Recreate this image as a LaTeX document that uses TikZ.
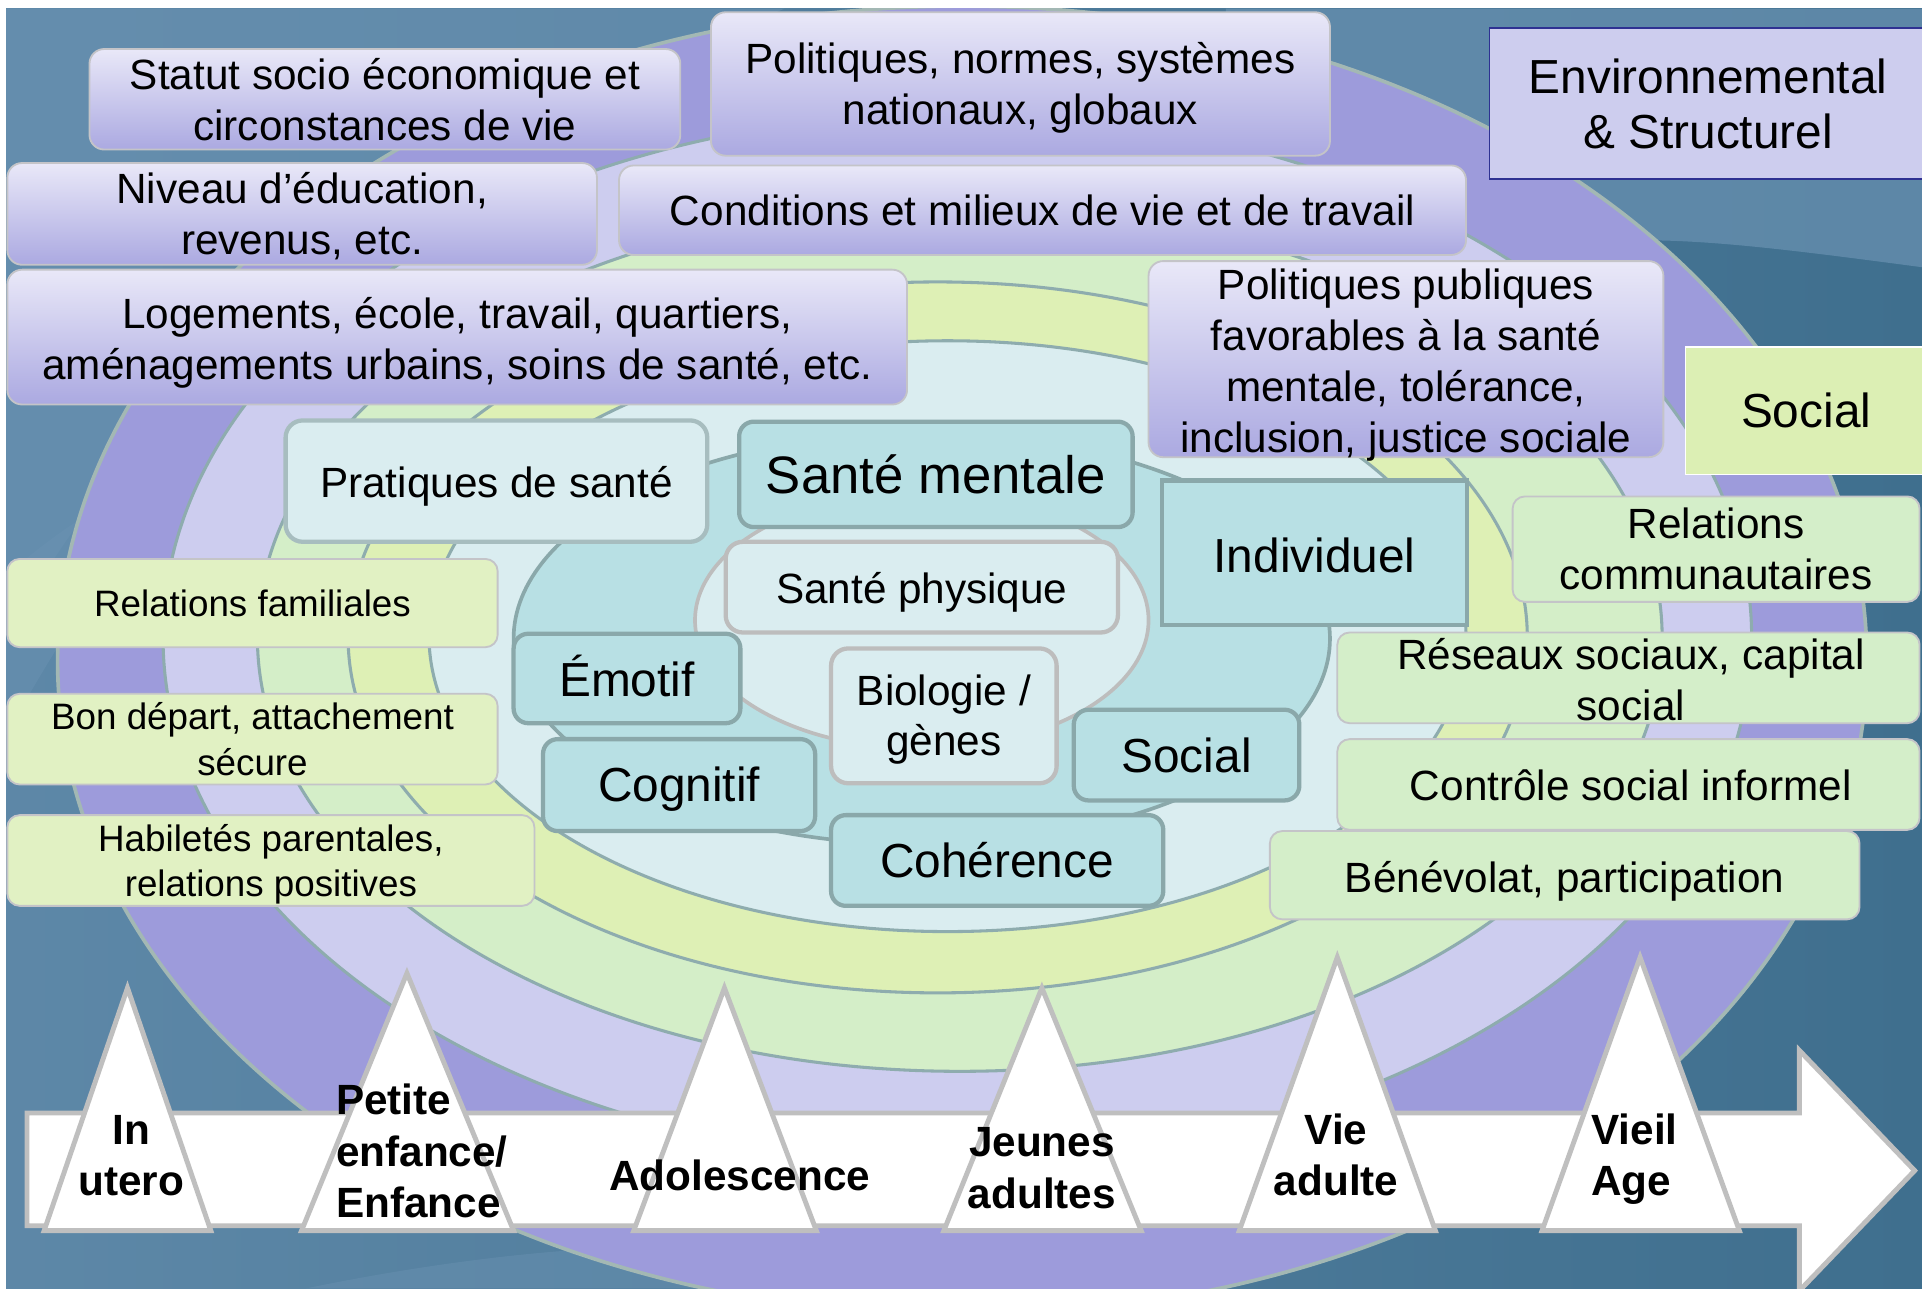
\documentclass[tikz,border=0pt]{standalone}
\usepackage{fontspec}
\setmainfont{Liberation Sans}
\definecolor{bgblue}{HTML}{3F6F8E}
\definecolor{bglight}{HTML}{6A92B2}
\definecolor{ringP}{HTML}{9D9BDB}
\definecolor{ringL}{HTML}{CDCDEF}
\definecolor{ringG}{HTML}{D4EEC8}
\definecolor{ringY}{HTML}{DEF0B5}
\definecolor{ringC}{HTML}{DAEDF0}
\definecolor{tealf}{HTML}{B8E0E4}
\definecolor{tealline}{HTML}{8AA8AA}
\definecolor{ringline}{HTML}{8EACAE}
\definecolor{outline}{HTML}{A3B8B4}
\definecolor{greyline}{HTML}{BDBDBD}
\definecolor{boxline}{HTML}{C4C4C8}
\definecolor{pratline}{HTML}{A7BDBF}
\definecolor{pTop}{HTML}{E9E8F8}
\definecolor{pBot}{HTML}{ABA9E1}
\definecolor{envfill}{HTML}{CDCDEE}
\definecolor{envline}{HTML}{2E3192}
\definecolor{yelbox}{HTML}{E1F1C3}
\definecolor{grnbox}{HTML}{D4EEC9}
\definecolor{socfill}{HTML}{DCEFB4}
\definecolor{arrline}{HTML}{BFBFBF}
\newcommand\fsN{\fontsize{34.5}{41.5}\selectfont}
\newcommand\fsS{\fontsize{30}{37}\selectfont}
\newcommand\fsL{\fontsize{39}{45}\selectfont}
\newcommand\fsX{\fontsize{43}{50}\selectfont}
\newcommand\fsB{\fontsize{34.5}{42}\selectfont\bfseries}
\tikzset{
  pbox/.style={rounded corners=12pt, draw=boxline, line width=1.5pt, top color=pTop, bottom color=pBot, align=center, inner sep=0pt, font=\fsN},
  ybox/.style={rounded corners=10pt, draw=boxline, line width=1.5pt, fill=yelbox, align=center, inner sep=0pt, font=\fsS},
  gbox/.style={rounded corners=10pt, draw=boxline, line width=1.5pt, fill=grnbox, align=center, inner sep=0pt, font=\fsN},
  cbox/.style={rounded corners=12pt, draw=tealline, line width=3.5pt, fill=tealf, align=center, inner sep=0pt, font=\fsL},
  lbox/.style={rounded corners=14pt, draw=greyline, line width=3.5pt, fill=ringC, align=center, inner sep=0pt, font=\fsN},
  txtN/.style={font=\fsN, align=center, inner sep=0pt},
  txtS/.style={font=\fsS, align=center, inner sep=0pt},
  txtL/.style={font=\fsL, align=center, inner sep=0pt},
  ring/.style={draw=ringline, line width=2.5pt},
  tri/.style={fill=white, draw=arrline, line width=4pt, line join=miter},
  lbl/.style={font=\fsB, align=center, inner sep=0pt},
}
\begin{document}
\begin{tikzpicture}[x=1pt, y=-1pt]
\useasboundingbox (0,0) rectangle (1568,1051);
\fill[white] (0,0) rectangle (1568,1051);
\begin{scope}
\clip (5,7) rectangle (1568,1051);
% background
\shade[left color=bglight!70!bgblue, right color=bgblue] (5,7) rectangle (1568,1051);
\fill[bglight, opacity=0.6] (5,7) -- (640,7) .. controls (380,120) and (150,260) .. (5,520) -- cycle;
\fill[bglight, opacity=0.5] (5,470) .. controls (60,420) and (120,390) .. (170,370) .. controls (110,430) and (60,500) .. (5,600) -- cycle;
\fill[bglight, opacity=0.45] (250,1051) .. controls (450,1010) and (650,1000) .. (800,1051) -- cycle;
\fill[bglight, opacity=0.7] (1000,7) -- (1568,7) -- (1568,218) .. controls (1470,205) and (1400,196) .. (1340,196) -- (1000,196) -- cycle;
% rings
\path[fill=ringP, draw=outline, line width=3pt] (785,539) ellipse [x radius=738, y radius=534];
\path[fill=ringL, ring] (781,520) ellipse [x radius=648, y radius=428];
\path[fill=ringG, ring] (783,520) ellipse [x radius=573, y radius=354];
\path[fill=ringY, ring] (765,520) ellipse [x radius=481, y radius=290];
\path[fill=ringC, ring] (773,519) ellipse [x radius=423, y radius=241];
\path[fill=tealf, draw=tealline, line width=3pt] (752,521) ellipse [x radius=333, y radius=168];
\path[fill=ringC, draw=greyline, line width=3pt] (752,506) ellipse [x radius=185, y radius=105];
% purple boxes
\node[pbox, minimum width=482pt, minimum height=82pt] (statut) at (314,81) {Statut socio économique et\\circonstances de vie};
\node[pbox, minimum width=505pt, minimum height=117pt] (politiques) at (832.5,68.5) {};
\node[txtN] (politiquesT) at (832.5,71.5) {Politiques, normes, systèmes\\nationaux, globaux};
\node[draw=envline, line width=1.2pt, fill=envfill, align=center, inner sep=0pt, font=\fsL, minimum width=357pt, minimum height=123pt] (env) at (1393.5,84.5) {Environnemental\\\& Structurel};
\node[pbox, minimum width=481pt, minimum height=83pt] (niveau) at (246.5,174.5) {};
\node[txtN] (niveauT) at (246.5,176.5) {Niveau d’éducation,\\revenus, etc.};
\node[pbox, minimum width=691pt, minimum height=73pt] (conditions) at (850.5,171.5) {Conditions et milieux de vie et de travail};
\node[pbox, minimum width=734pt, minimum height=110pt] (logements) at (373,275) {};
\node[txtN] (logementsT) at (373,280) {Logements, école, travail, quartiers,\\aménagements urbains, soins de santé, etc.};
\node[pbox, minimum width=420pt, minimum height=160pt] (polpub) at (1147,293) {};
\node[txtN] (polpubT) at (1147,298) {Politiques publiques\\favorables à la santé\\mentale, tolérance,\\inclusion, justice sociale};
% social boxes
\node[draw=white, line width=1pt, fill=socfill, inner sep=0pt, font=\fsL, minimum width=197pt, minimum height=104pt] (socialR) at (1473.5,335) {Social};
\node[ybox, minimum width=400pt, minimum height=72pt] (relfam) at (206,492) {Relations familiales};
\node[ybox, minimum width=400pt, minimum height=74pt] (bondep) at (206,603) {Bon départ, attachement\\sécure};
\node[ybox, minimum width=430pt, minimum height=74pt] (habil) at (221,702) {};
\node[txtS] (habilT) at (221,705) {Habiletés parentales,\\relations positives};
\node[gbox, minimum width=332pt, minimum height=86pt] (relcom) at (1400,448) {Relations\\communautaires};
\node[gbox, minimum width=475pt, minimum height=74pt] (reseaux) at (1328.5,553) {};
\node[txtN] (reseauxT) at (1330.5,554.5) {Réseaux sociaux, capital\\social};
\node[gbox, minimum width=475pt, minimum height=74pt] (controle) at (1328.5,640) {};
\node[txtN] (controleT) at (1330.5,641) {Contrôle social informel};
\node[gbox, minimum width=481pt, minimum height=72pt] (benevolat) at (1276.5,714) {};
\node[txtN] (benevolatT) at (1276.5,719) {Bénévolat, participation};
% individual boxes
\node[lbox, draw=pratline, minimum width=344pt, minimum height=99pt] (pratiques) at (405,392.5) {};
\node[txtN] (pratiquesT) at (405,396.5) {Pratiques de santé};
\node[cbox, font=\fsX, minimum width=321pt, minimum height=86pt] (mentale) at (763.5,387) {Santé mentale};
\node[cbox, rounded corners=0pt, minimum width=249pt, minimum height=118pt] (individuel) at (1072.5,451) {};
\node[txtL] (individuelT) at (1072.5,453) {Individuel};
\node[lbox, minimum width=320pt, minimum height=74pt] (physique) at (752,479) {};
\node[txtN] (physiqueT) at (752,483) {Santé physique};
\node[cbox, minimum width=185pt, minimum height=73pt] (emotif) at (511.5,553.5) {};
\node[txtL] (emotifT) at (511.5,551.5) {Émotif};
\node[lbox, minimum width=184pt, minimum height=110pt] (biologie) at (770,584) {};
\node[txtN] (biologieT) at (770,587) {Biologie /\\gènes};
\node[cbox, minimum width=222pt, minimum height=75pt] (cognitif) at (554,640.5) {};
\node[txtL] (cognitifT) at (554,644) {Cognitif};
\node[cbox, minimum width=184pt, minimum height=74pt] (socialI) at (968,616) {Social};
\node[cbox, minimum width=271pt, minimum height=74pt] (coherence) at (813.5,702) {Cohérence};
% timeline arrow
\draw[fill=white, draw=arrline, line width=4pt, line join=miter] (22,908) -- (1468,908) -- (1468,857) -- (1562,955) -- (1468,1053) -- (1468,1000) -- (22,1000) -- cycle;
\draw[tri] (36,1004) -- (104,806) -- (172,1004) -- cycle;
\draw[tri] (246,1004) -- (332,794) -- (419,1004) -- cycle;
\draw[tri] (517,1004) -- (591,806) -- (666,1004) -- cycle;
\draw[tri] (770,1004) -- (850,806) -- (931,1004) -- cycle;
\draw[tri] (1011,1004) -- (1091,781) -- (1171,1004) -- cycle;
\draw[tri] (1258,1004) -- (1338,781) -- (1419,1004) -- cycle;
\node[lbl] (inutero) at (107,943) {In\\utero};
\node[lbl, align=left, anchor=west] (petite) at (274,939) {Petite\\enfance/\\Enfance};
\node[lbl] (ado) at (603.5,959) {Adolescence};
\node[lbl] (jeunes) at (850,953) {Jeunes\\adultes};
\node[lbl] (vie) at (1090,942) {Vie\\adulte};
\node[lbl, align=left, anchor=west] (vieil) at (1298,945.5) {Vieil\\Age};
\end{scope}
\end{tikzpicture}
\end{document}
